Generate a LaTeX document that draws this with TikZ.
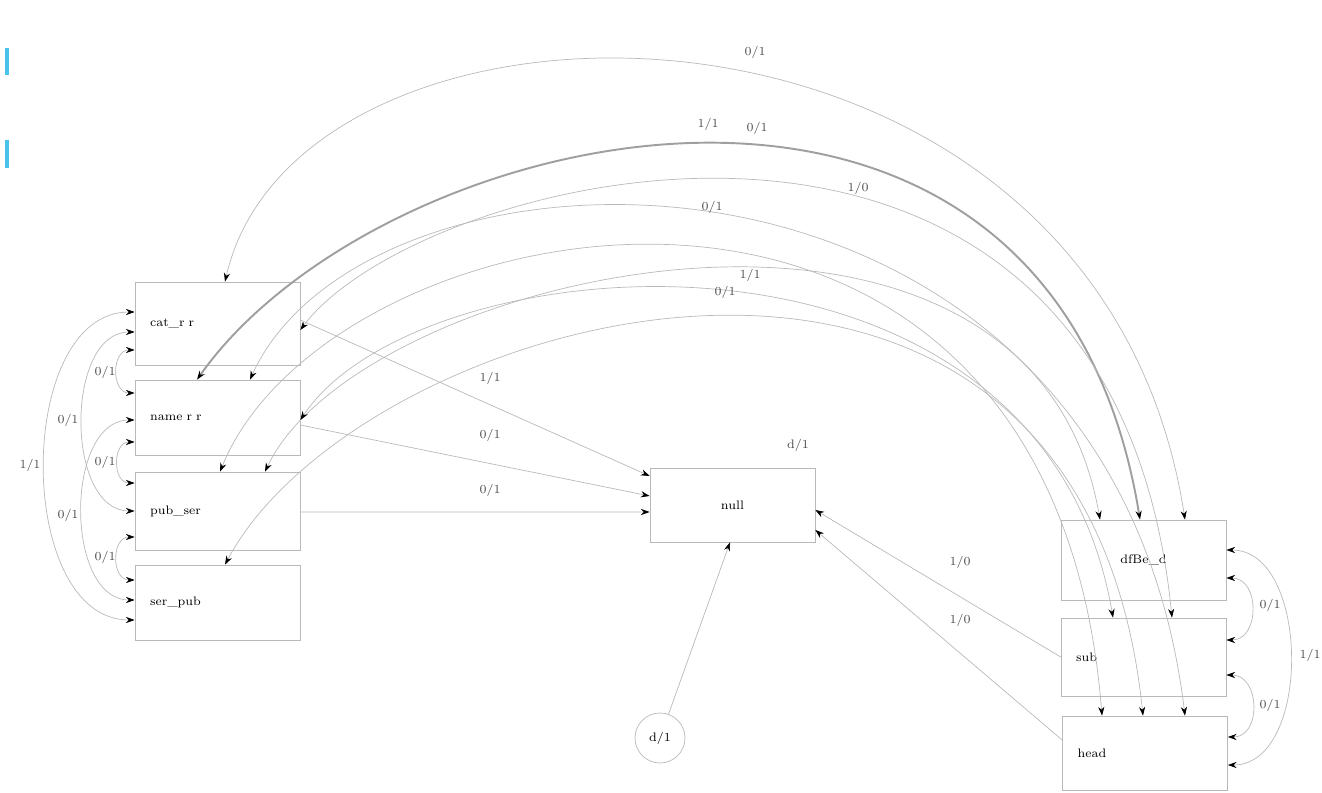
\documentclass[tikz,border=0pt]{standalone}
\usepackage{tikz}
\usetikzlibrary{arrows.meta}
\definecolor{barblue}{RGB}{72,196,236}
\tikzset{
  box/.style={draw=gray!55, minimum width=3.3cm, inner xsep=0.3cm, text width=2.7cm, align=left, font=\scriptsize},
  lbl/.style={font=\scriptsize, text=black!70, inner sep=1pt},
  wire/.style={draw=gray!55, line width=0.4pt},
  into/.style={wire, -{Stealth[length=5pt,width=3.5pt,black]}},
  both/.style={wire, {Stealth[length=5pt,width=3.5pt,black]}-{Stealth[length=5pt,width=3.5pt,black]}},
}
\begin{document}
\begin{tikzpicture}[x=0.02cm,y=-0.02cm]
 \useasboundingbox (0,0) rectangle (1322,793);
 \draw[barblue, line width=2pt] (7,48) -- (7,75);
 \draw[barblue, line width=2pt] (7,140) -- (7,168);
 % boxes
 \node[box, minimum height=1.66cm] (A) at (217.5,323.5) {cat\_r r};
 \node[box, minimum height=1.5cm] (B) at (217.5,417.5) {name r r};
 \node[box, minimum height=1.56cm] (C) at (217.5,511) {pub\_ser};
 \node[box, minimum height=1.5cm] (D) at (217.5,602.5) {ser\_pub};
 \node[box, minimum height=1.48cm, align=center] (E) at (732.5,505) {null};
 \node[box, minimum width=3.26cm, minimum height=1.6cm, align=center] (F) at (1143.5,560) {dfBe\_d};
 \node[box, minimum width=3.26cm, minimum height=1.56cm] (G) at (1143.5,657) {sub};
 \node[box, minimum width=3.2cm, minimum height=1.48cm] (H) at (1145,753) {head};
 \node[draw=gray!55, circle, minimum size=1cm, font=\scriptsize] (Z) at (660,738) {d/1};
 % long arcs over the top
 \draw[both] ([xshift=0.15cm]A.north) .. controls (300,-45) and (1097,-48) .. ([xshift=0.83cm]F.north);
 \draw[both, line width=1.1pt, draw=gray!75] ([xshift=-0.41cm]B.north) .. controls (380,120) and (1050,-36) .. ([xshift=-0.07cm]F.north);
 \draw[both] ([yshift=-0.13cm]A.east) .. controls (420,170) and (1110,-3) .. ([xshift=0.57cm]G.north);
 \draw[both] ([xshift=0.65cm]B.north) .. controls (370,115) and (1110,99) .. ([xshift=0.8cm]H.north);
 \draw[both] ([xshift=0.05cm]C.north) .. controls (330,200) and (1050,62) .. ([xshift=-0.86cm]H.north);
 \draw[both] ([xshift=0.95cm]C.north) .. controls (360,270) and (1030,119) .. ([xshift=-0.87cm]F.north);
 \draw[both] ([yshift=-0.05cm]B.east) .. controls (420,240) and (1040,191) .. ([xshift=-0.61cm]G.north);
 \draw[both] ([xshift=0.15cm]D.north) .. controls (360,310) and (1080,108) .. ([xshift=-0.04cm]H.north);
 \node[lbl] (l1) at (755,52) {0/1};
 \node[lbl] (l2) at (708,124) {1/1};
 \node[lbl] (l3) at (757,128) {0/1};
 \node[lbl] (l4) at (858,188) {1/0};
 \node[lbl] (l5) at (712,207) {0/1};
 \node[lbl] (l6) at (750,275) {1/1};
 \node[lbl] (l7) at (725,292) {0/1};
 % straight lines into null
 \draw[into] ([yshift=0.07cm]A.east) -- ([yshift=0.58cm]E.west);
 \draw[into] ([yshift=-0.15cm]B.east) -- ([yshift=0.18cm]E.west);
 \draw[into] ([yshift=-0.02cm]C.east) -- ([yshift=-0.14cm]E.west);
 \draw[into] (G.west) -- ([yshift=-0.1cm]E.east);
 \draw[into] ([yshift=0.26cm]H.west) -- ([yshift=-0.5cm]E.east);
 \draw[into] (Z) -- ([xshift=-0.05cm]E.south);
 \node[lbl] (l8) at (490,378) {1/1};
 \node[lbl] (l9) at (490,435) {0/1};
 \node[lbl] (l10) at (490,490) {0/1};
 \node[lbl] (l11) at (960,562) {1/0};
 \node[lbl] (l12) at (960,620) {1/0};
 \node[lbl] (l13) at (798,445) {d/1};
 % left side
 \draw[both] ([yshift=-0.53cm]A.west) to[out=180,in=180,looseness=1.4] ([yshift=0.49cm]B.west);
 \draw[both] ([yshift=-0.49cm]B.west) to[out=180,in=180,looseness=1.4] ([yshift=0.56cm]C.west);
 \draw[both] ([yshift=-0.52cm]C.west) to[out=180,in=180,looseness=1.4] ([yshift=0.45cm]D.west);
 \draw[both] ([yshift=-0.17cm]A.west) to[out=180,in=180,looseness=1] (C.west);
 \draw[both] ([yshift=-0.05cm]B.west) to[out=180,in=180,looseness=1] ([yshift=0.05cm]D.west);
 \draw[both] ([yshift=0.23cm]A.west) to[out=180,in=180,looseness=1] ([yshift=-0.35cm]D.west);
 \node[lbl] (l14) at (105,372) {0/1};
 \node[lbl] (l15) at (68,420) {0/1};
 \node[lbl] (l16) at (105,462) {0/1};
 \node[lbl] (l17) at (30,465) {1/1};
 \node[lbl] (l18) at (68,515) {0/1};
 \node[lbl] (l19) at (105,557) {0/1};
 % right side
 \draw[both] ([yshift=-0.36cm]F.east) to[out=0,in=0,looseness=1.4] ([yshift=0.34cm]G.east);
 \draw[both] ([yshift=-0.36cm]G.east) to[out=0,in=0,looseness=1.4] ([yshift=0.32cm]H.east);
 \draw[both] ([yshift=0.2cm]F.east) to[out=0,in=0,looseness=1] ([yshift=-0.24cm]H.east);
 \node[lbl] (l20) at (1270,605) {0/1};
 \node[lbl] (l21) at (1310,655) {1/1};
 \node[lbl] (l22) at (1270,705) {0/1};
\end{tikzpicture}
\end{document}
